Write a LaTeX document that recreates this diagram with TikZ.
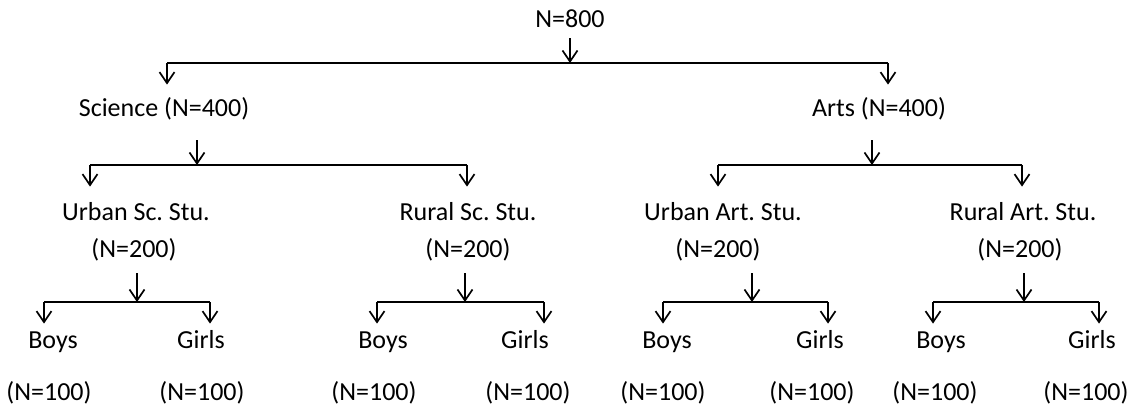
\documentclass[tikz,border=0pt]{standalone}
\usepackage{fontspec}
\setmainfont{Carlito}
\usepackage{tikz}
\usetikzlibrary{arrows.meta}
\frenchspacing

\begin{document}
\begin{tikzpicture}[
x=0.5pt, y=0.5pt,
font=\fontsize{13}{15}\selectfont,
txt/.style={inner sep=0pt, anchor=base, text height=7.5pt, text depth=2.5pt},
bar/.style={line width=1.1pt},
down/.style={-{Straight Barb[length=5.5pt,width=7.5pt]}, line width=0.85pt}
]
    \useasboundingbox (0,0) rectangle (1140,418);

    % Labels
    \node[txt] (root) at (570,390) {N=800};
    \node[txt] (sci) at (164,301) {Science (N=400)};
    \node[txt] (arts) at (879,301) {Arts (N=400)};

    \node[txt] (usc) at (136,197) {Urban Sc. Stu.};
    \node[txt] (uscn) at (134,161) {(N=200)};
    \node[txt] (rsc) at (468,197) {Rural Sc. Stu.};
    \node[txt] (rscn) at (468,161) {(N=200)};
    \node[txt] (uart) at (723,197) {Urban Art. Stu.};
    \node[txt] (uartn) at (718,161) {(N=200)};
    \node[txt] (rart) at (1023,197) {Rural Art. Stu.};
    \node[txt] (rartn) at (1020,161) {(N=200)};

    \node[txt] (b1) at (53,70) {Boys};
    \node[txt] (g1) at (201,70) {Girls};
    \node[txt] (b2) at (383,70) {Boys};
    \node[txt] (g2) at (525,70) {Girls};
    \node[txt] (b3) at (667,70) {Boys};
    \node[txt] (g3) at (820,70) {Girls};
    \node[txt] (b4) at (941,70) {Boys};
    \node[txt] (g4) at (1092,70) {Girls};

    \node[txt] (b1n) at (49,18) {(N=100)};
    \node[txt] (g1n) at (202,18) {(N=100)};
    \node[txt] (b2n) at (374,18) {(N=100)};
    \node[txt] (g2n) at (528,18) {(N=100)};
    \node[txt] (b3n) at (663,18) {(N=100)};
    \node[txt] (g3n) at (812,18) {(N=100)};
    \node[txt] (b4n) at (935,18) {(N=100)};
    \node[txt] (g4n) at (1086,18) {(N=100)};

    % Junctions on the bars
    \draw
    (570,355) coordinate (j0)
    (167,355) coordinate (j0l)
    (888,355) coordinate (j0r)
    (197,253) coordinate (js)
    (90,253) coordinate (jsl)
    (467,253) coordinate (jsr)
    (872,253) coordinate (ja)
    (718,253) coordinate (jal)
    (1022,253) coordinate (jar)
    (137,116) coordinate (j1)
    (44,116) coordinate (j1l)
    (210,116) coordinate (j1r)
    (465,116) coordinate (j2)
    (377,116) coordinate (j2l)
    (544,116) coordinate (j2r)
    (752,116) coordinate (j3)
    (663,116) coordinate (j3l)
    (828,116) coordinate (j3r)
    (1024,116) coordinate (j4)
    (933,116) coordinate (j4l)
    (1099,116) coordinate (j4r);

    % Top split
    \draw[down, shorten <=2.5pt] (j0 |- root.south) -- (j0);
    \draw[bar] (j0l) -- (j0r);
    \draw[down, shorten >=8.5pt] (j0l) -- (j0l |- sci.north);
    \draw[down, shorten >=8.5pt] (j0r) -- (j0r |- arts.north);

    % Second split
    \draw[down, shorten <=9pt] (js |- sci.south) -- (js);
    \draw[bar] (jsl) -- (jsr);
    \draw[down, shorten >=9.5pt] (jsl) -- (jsl |- usc.north);
    \draw[down, shorten >=9.5pt] (jsr) -- (jsr |- rsc.north);

    \draw[down, shorten <=9pt] (ja |- arts.south) -- (ja);
    \draw[bar] (jal) -- (jar);
    \draw[down, shorten >=9.5pt] (jal) -- (jal |- uart.north);
    \draw[down, shorten >=9.5pt] (jar) -- (jar |- rart.north);

    % Third split
    \draw[down, shorten <=5.5pt] (j1 |- uscn.south) -- (j1);
    \draw[bar] (j1l) -- (j1r);
    \draw[down, shorten >=4.5pt] (j1l) -- (j1l |- b1.north);
    \draw[down, shorten >=4.5pt] (j1r) -- (j1r |- g1.north);

    \draw[down, shorten <=5.5pt] (j2 |- rscn.south) -- (j2);
    \draw[bar] (j2l) -- (j2r);
    \draw[down, shorten >=4.5pt] (j2l) -- (j2l |- b2.north);
    \draw[down, shorten >=4.5pt] (j2r) -- (j2r |- g2.north);

    \draw[down, shorten <=5.5pt] (j3 |- uartn.south) -- (j3);
    \draw[bar] (j3l) -- (j3r);
    \draw[down, shorten >=4.5pt] (j3l) -- (j3l |- b3.north);
    \draw[down, shorten >=4.5pt] (j3r) -- (j3r |- g3.north);

    \draw[down, shorten <=5.5pt] (j4 |- rartn.south) -- (j4);
    \draw[bar] (j4l) -- (j4r);
    \draw[down, shorten >=4.5pt] (j4l) -- (j4l |- b4.north);
    \draw[down, shorten >=4.5pt] (j4r) -- (j4r |- g4.north);

\end{tikzpicture}
\end{document}
